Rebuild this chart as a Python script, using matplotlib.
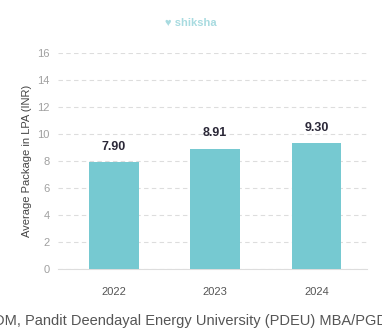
import matplotlib.pyplot as plt

plt.rcParams['font.family'] = ['Liberation Sans', 'DejaVu Sans']

# data
years = ['2022', '2023', '2024']
packages = [7.90, 8.91, 9.30]
yticks = [0, 2, 4, 6, 8, 10, 12, 14, 16]

bar_color = '#76c9d1'
grey_text = '#a0a0a0'

fig = plt.figure(figsize=(3.82, 3.36), dpi=100)
ax = fig.add_axes([58 / 382, 1 - 269 / 336, (367 - 58) / 382, (269 - 53) / 336])

x = list(range(len(years)))
ax.bar(x, packages, width=0.49, color=bar_color, zorder=3)

for xi, v in zip(x, packages):
    ax.annotate(f'{v:.2f}', (xi, v), xytext=(0, 7), textcoords='offset points',
                ha='center', va='bottom', fontsize=9, fontweight='bold',
                color='#2b2838')

ax.set_xlim(-0.55, 2.5)
ax.set_ylim(0, 16)
ax.set_yticks(yticks)
ax.set_xticks(x)
ax.set_xticklabels(years)
ax.tick_params(axis='both', length=0, labelsize=8, colors=grey_text)
ax.tick_params(axis='y', pad=6)
ax.tick_params(axis='x', pad=13, colors='#555555')
ax.yaxis.grid(True, linestyle=(0, (4, 3)), color='#dddddd', linewidth=0.8, zorder=0)
for s in ['top', 'right', 'left']:
    ax.spines[s].set_visible(False)
ax.spines['bottom'].set_color('#dddddd')

ax.set_ylabel('Average Package in LPA (INR)', fontsize=8, color='#444444', labelpad=4)

# logo and cut-off title
fig.text(0.5, 1 - 23 / 336, '\u2665 shiksha', ha='center', va='center',
         fontsize=8, fontweight='bold', color='#a8dbe0')
fig.text(-0.016, 1 - 321 / 336,
         'DM, Pandit Deendayal Energy University (PDEU) MBA/PGDM',
         ha='left', va='center', fontsize=10.5, color='#555555')

fig.savefig('out.png', dpi=100)
